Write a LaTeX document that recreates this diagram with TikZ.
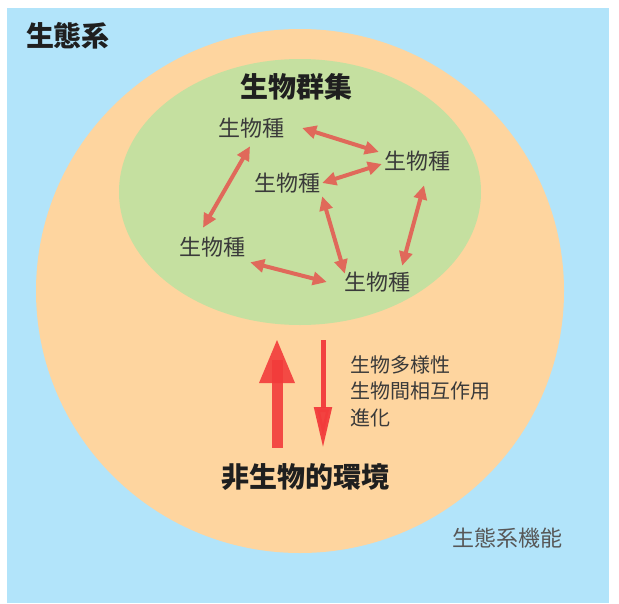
\documentclass[tikz,border=0pt]{standalone}
\usepackage{fontspec}
\newfontfamily\jp{Noto Sans CJK JP}
\usetikzlibrary{arrows.meta}
\definecolor{skyblue}{HTML}{B2E4FA}
\definecolor{sandorange}{HTML}{FED59F}
\definecolor{leafgreen}{HTML}{C5E0A0}
\definecolor{bioarrow}{HTML}{E0695A}
\definecolor{bigred}{HTML}{F23B3B}
\definecolor{inkgray}{HTML}{3A3A3A}
\begin{document}
\begin{tikzpicture}[x=1pt,y=-1pt,
          title/.style={inner sep=0pt,text=black!88,font=\jp\bfseries\fontsize{28}{32}\selectfont},
          species/.style={inner sep=0pt,text=inkgray,font=\jp\fontsize{22}{26}\selectfont},
          note/.style={inner sep=0pt,text=inkgray,align=left,font=\jp\fontsize{20}{26.5}\selectfont},
          bio/.style={draw=bioarrow,line width=4pt,{Triangle[length=14pt,width=13pt]}-{Triangle[length=14pt,width=13pt]}}]
  \useasboundingbox (0,0) rectangle (619,603);
  % background layers
  \fill[skyblue] (7,8) rectangle (609,603);
  \fill[sandorange] (300,291) ellipse [x radius=264, y radius=262];
  \fill[leafgreen] (300,192) ellipse [x radius=181, y radius=133];
  % texts
  \node[title] (eco) at (68,36) {生態系};
  \node[title] (comm) at (296,87) {生物群集};
  \node[title] (abio) at (305,477) {非生物的環境};
  \node[note,anchor=west] (notes) at (350,391) {生物多様性\\生物間相互作用\\進化};
  \node[species,text=inkgray!85] (func) at (507,538) {生態系機能};
  % species
  \node[species] (s1) at (251,128) {生物種};
  \node[species] (s2) at (417,161) {生物種};
  \node[species] (s3) at (287,183) {生物種};
  \node[species] (s4) at (212,247) {生物種};
  \node[species] (s5) at (377,282) {生物種};
  % interactions
  \draw[bio] ([shift={(18,0)}]s1.east) -- ([shift={(-5,-9)}]s2.west);
  \draw[bio] ([shift={(2,0)}]s3.east) -- ([shift={(-2,3)}]s2.west);
  \draw[bio] ([shift={(-1,8)}]s1.south) -- ([shift={(-9,-9)}]s4.north);
  \draw[bio] ([shift={(2,3)}]s3.south east) -- ([shift={(1,2)}]s5.north west);
  \draw[bio] ([shift={(7,14)}]s2.south) -- ([shift={(-8,-6)}]s5.north east);
  \draw[bio] ([shift={(5,5)}]s4.south east) -- ([shift={(-17,0)}]s5.west);
  % abiotic <-> community
  \coordinate (uptip) at (277,340);
  \coordinate (upbase) at (277,448);
  \fill[bigred,opacity=0.9] ([xshift=-5.5pt]upbase) rectangle ([shift={(5.5,20)}]uptip);
  \fill[bigred,opacity=0.9] (uptip) -- ([shift={(18,43)}]uptip) -- ([shift={(-18,43)}]uptip) -- cycle;
  \coordinate (dntop) at (323,340);
  \coordinate (dntip) at (323,448);
  \draw[bigred,opacity=0.95,line width=5pt,-{Triangle[length=41pt,width=17pt]}] (dntop) -- (dntip);
\end{tikzpicture}
\end{document}
